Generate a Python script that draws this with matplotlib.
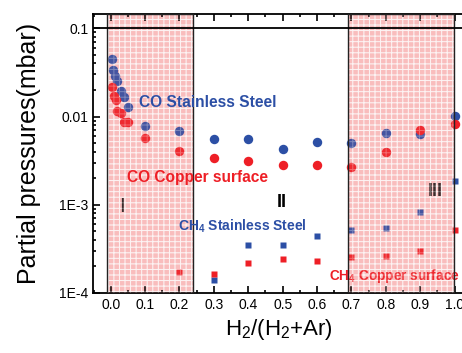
import matplotlib
matplotlib.use("Agg")
import matplotlib.pyplot as plt
from matplotlib.patches import Rectangle
from matplotlib.ticker import (FixedLocator, FixedFormatter, LogLocator, NullFormatter,
                               MultipleLocator, FormatStrFormatter)

# ---- data ----
x_co_ss = [0.004, 0.008, 0.0125, 0.019, 0.029, 0.039, 0.049, 0.1, 0.2, 0.3, 0.4, 0.5, 0.6, 0.7, 0.8, 0.9, 1.0]
y_co_ss = [0.0447, 0.0335, 0.0289, 0.0254, 0.0193, 0.0168, 0.0130, 0.00787, 0.0068, 0.00557, 0.00557,
           0.00433, 0.00519, 0.0050, 0.00645, 0.00634, 0.01005]

x_co_cu = [0.004, 0.0096, 0.0145, 0.017, 0.029, 0.04, 0.049, 0.1, 0.2, 0.3, 0.4, 0.5, 0.6, 0.7, 0.8, 0.9, 1.0]
y_co_cu = [0.0214, 0.0172, 0.0153, 0.01164, 0.01087, 0.00873, 0.00873, 0.00568, 0.00405, 0.00337, 0.00317,
           0.00285, 0.00283, 0.00267, 0.0040, 0.0071, 0.00822]

x_ch4_ss = [0.3, 0.4, 0.5, 0.6, 0.7, 0.8, 0.9, 1.0]
y_ch4_ss = [1.40e-4, 3.47e-4, 3.53e-4, 4.43e-4, 5.13e-4, 5.5e-4, 8.26e-4, 1.88e-3]

x_ch4_cu = [0.2, 0.3, 0.4, 0.5, 0.6, 0.7, 0.8, 0.9, 1.0]
y_ch4_cu = [1.74e-4, 1.63e-4, 2.21e-4, 2.46e-4, 2.31e-4, 2.57e-4, 2.63e-4, 2.96e-4, 5.13e-4]

regions = [(-0.012, 0.238), (0.689, 0.997)]
region_labels = ["I", "II", "III"]
yticks = [1e-4, 1e-3, 1e-2, 1e-1]
ytick_labels = ["1E-4", "1E-3", "0.01", "0.1"]

BLUE = "#2c4fa5"
RED = "#ee1f26"

plt.rcParams.update({
    "font.family": ["Liberation Sans", "DejaVu Sans"],
    "mathtext.default": "regular",
    "hatch.linewidth": 0.7,
})

fig = plt.figure(figsize=(4.62, 3.53), dpi=100)
ax = fig.add_axes([0.2013, 0.170, 0.805, 0.790])
ax.set_yscale("log")
ax.set_xlim(-0.0515, 1.03)
ax.set_ylim(1e-4, 0.145)

ax.plot(x_co_ss, y_co_ss, "o", color=BLUE, ms=6.8, mec="none", zorder=3)
ax.plot(x_co_cu, y_co_cu, "o", color=RED, ms=6.8, mec="none", zorder=3)
ax.plot(x_ch4_ss, y_ch4_ss, "s", color=BLUE, ms=3.9, mec="none", zorder=3)
ax.plot(x_ch4_cu, y_ch4_cu, "s", color=RED, ms=3.9, mec="none", zorder=3)

# shaded regions: pink dotted base below the markers, faint veil above them
for x0, x1 in regions:
    trans = ax.get_xaxis_transform()
    ax.add_patch(Rectangle((x0, 0), x1 - x0, 1, transform=trans,
                           facecolor="#fac6c6", edgecolor="white",
                           hatch="+++", linewidth=0, zorder=1))
    ax.add_patch(Rectangle((x0, 0), x1 - x0, 1, transform=trans,
                           facecolor=(0.95, 0.5, 0.5, 0.12), edgecolor=(1, 1, 1, 0.3),
                           hatch="+++", linewidth=0, zorder=4))
    ax.add_patch(Rectangle((x0, 0), x1 - x0, 1, transform=trans,
                           fill=False, edgecolor="#222222", linewidth=1.0, zorder=5))

ax.axhline(0.1, color="black", lw=1.3, zorder=6)

ax.text(0.083, 0.0143, "CO Stainless Steel", color=BLUE, va="center", zorder=7,
        fontsize=11.2, fontweight="bold")
ax.text(0.048, 0.00202, "CO Copper surface", color=RED, va="center", zorder=7,
        fontsize=11.2, fontweight="bold")
ax.text(0.196, 0.000577, "CH$_4$ Stainless Steel", color=BLUE, va="center", zorder=7,
        fontsize=10, fontweight="bold")
ax.text(0.635, 0.000157, "CH$_4$ Copper surface", color=RED, va="center", zorder=3,
        fontsize=9.8, fontweight="bold")
ax.text(0.034, 0.000946, region_labels[0], color="#222222", ha="center", va="center",
        fontsize=15, zorder=3)
ax.text(0.498, 0.00105, region_labels[1], color="black", ha="center", va="center",
        fontsize=13, fontweight="bold", zorder=7)
ax.text(0.943, 0.00140, region_labels[2], color="#222222", ha="center", va="center",
        fontsize=13, fontweight="bold", zorder=3)

ax.yaxis.set_major_locator(FixedLocator(yticks))
ax.yaxis.set_major_formatter(FixedFormatter(ytick_labels))
ax.yaxis.set_minor_locator(LogLocator(base=10, subs=range(2, 10)))
ax.yaxis.set_minor_formatter(NullFormatter())
ax.xaxis.set_major_locator(MultipleLocator(0.1))
ax.xaxis.set_minor_locator(MultipleLocator(0.05))
ax.xaxis.set_major_formatter(FormatStrFormatter("%.1f"))

ax.tick_params(which="both", direction="in", top=True, right=False, width=1.2)
ax.tick_params(which="major", length=5, labelsize=10)
ax.tick_params(which="minor", length=2.5)
for s in ax.spines.values():
    s.set_linewidth(1.3)

ax.set_ylabel("Partial pressures(mbar)", fontsize=18, labelpad=13)
ax.set_xlabel("H$_2$/(H$_2$+Ar)", fontsize=16, labelpad=4)

fig.savefig("out.png", dpi=100)
